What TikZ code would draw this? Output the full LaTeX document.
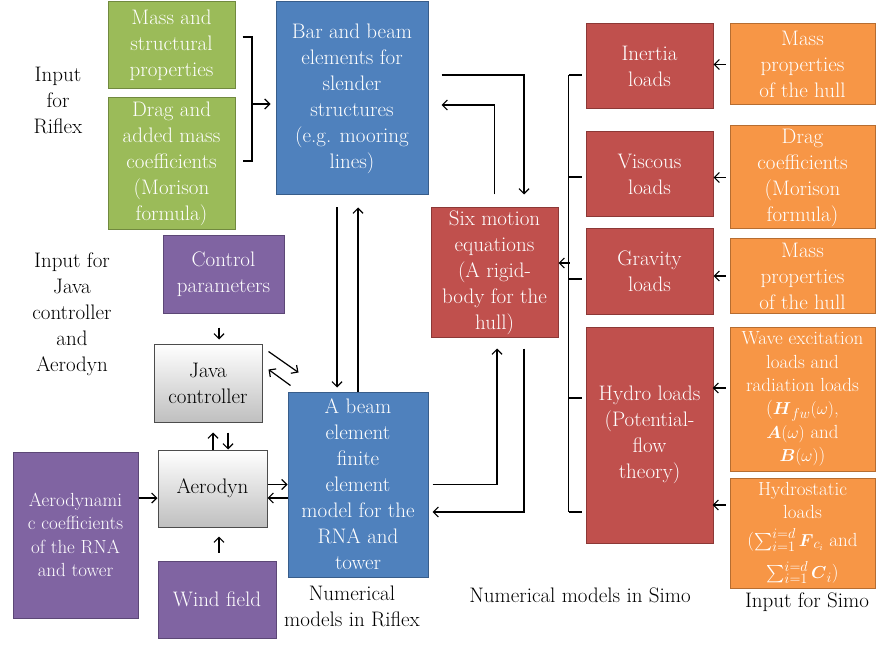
\documentclass[tikz,border=0pt]{standalone}
\usepackage{amsmath}
\usepackage{fontspec}
\usetikzlibrary{arrows.meta,calc}

\definecolor{ppgreen}{HTML}{9BBB59}
\definecolor{ppgreenD}{HTML}{71893F}
\definecolor{ppblue}{HTML}{4F81BD}
\definecolor{ppblueD}{HTML}{385D8A}
\definecolor{ppred}{HTML}{C0504D}
\definecolor{ppredD}{HTML}{8C3836}
\definecolor{pppurple}{HTML}{8064A2}
\definecolor{pppurpleD}{HTML}{5C4776}
\definecolor{pporange}{HTML}{F79646}
\definecolor{pporangeD}{HTML}{B66D31}

\begin{document}
\begin{tikzpicture}[
  x=1pt, y=-1pt,
  box/.style={rectangle, draw, line width=1pt, align=center, inner sep=1pt,
              text=white, font=\fontsize{21}{26}\selectfont},
  grn/.style={box, fill=ppgreen, draw=ppgreenD},
  blu/.style={box, fill=ppblue, draw=ppblueD},
  rd/.style={box, fill=ppred, draw=ppredD},
  prp/.style={box, fill=pppurple, draw=pppurpleD},
  org/.style={box, fill=pporange, draw=pporangeD},
  gry/.style={box, top color=white, bottom color=gray!50, draw=gray!60!black,
              text=black},
  sz/.style 2 args={minimum width=#1pt, minimum height=#2pt},
  small/.style={font=\fontsize{19}{23.3}\selectfont},
  lbl/.style={align=center, font=\fontsize{21}{26}\selectfont},
  arr/.style={-{Straight Barb[length=5pt,width=10pt]}, line width=1.2pt},
  ln/.style={line width=1.2pt}
]
  \useasboundingbox (0,0) rectangle (876,647);

  % Riflex
  \node[grn, sz={127}{87}] (mass) at (171.5,45.5) {Mass and\\structural\\properties};
  \node[grn, sz={127}{132}] (drag) at (171.5,164) {Drag and\\added mass\\coefficients\\(Morison\\formula)};
  \node[blu, sz={152}{193}] (bar) at (352,98.5) {Bar and beam\\elements for\\slender\\structures\\(e.g. mooring\\lines)};
  \node[blu, sz={140}{185}] (fem) at (358,484.5) {A beam\\element\\finite\\element\\model for the\\RNA and\\tower};

  % Java controller and Aerodyn
  \node[prp, sz={121}{77}] (ctrl) at (223.5,274.5) {Control\\parameters};
  \node[gry, sz={108}{78}] (java) at (208,383) {Java\\controller};
  \node[gry, sz={109}{77}] (aero) at (212.5,488.5) {Aerodyn};
  \node[prp, small, sz={125}{166}] (coef) at (75.5,535) {Aerodynami\\c coefficients\\of the RNA\\and tower};
  \node[prp, sz={118}{77}] (wind) at (217,599.5) {Wind field};

  % Simo
  \node[rd, sz={127}{129}] (six) at (494.5,272.5) {Six motion\\equations\\(A rigid-\\body for the\\hull)};
  \node[rd, sz={127}{85}] (inertia) at (649.5,66.5) {Inertia\\loads};
  \node[rd, sz={127}{85}] (viscous) at (649.5,174.5) {Viscous\\loads};
  \node[rd, sz={127}{85}] (gravity) at (649.5,271.5) {Gravity\\loads};
  \node[rd, sz={127}{216}] (hydro) at (649.5,435) {Hydro loads\\(Potential-\\flow\\theory)};
  \node[org, sz={145}{81}] (massp) at (802.5,64.5) {Mass\\properties\\of the hull};
  \node[org, sz={145}{103}] (dragc) at (802.5,177.5) {Drag\\coefficients\\(Morison\\formula)};
  \node[org, sz={145}{74}] (massq) at (802.5,276) {Mass\\properties\\of the hull};
  \node[org, small, sz={145}{144}] (wave) at (802.5,399) {Wave excitation\\loads and\\radiation loads\\($\boldsymbol{H}_{fw}(\omega)$,\\$\boldsymbol{A}(\omega)$ and\\$\boldsymbol{B}(\omega)$)};
  \node[org, small, sz={145}{110}] (hstat) at (802.5,533) {Hydrostatic\\loads\\[4pt]($\sum_{i=1}^{i=d}\boldsymbol{F}_{c_i}$ and\\[9pt]$\sum_{i=1}^{i=d}\boldsymbol{C}_i$)};

  % labels
  \node[lbl] (inriflex) at (58,100) {Input\\for\\Riflex};
  \node[lbl] (injava) at (72,314) {Input for\\Java\\controller\\and\\Aerodyn};
  \node[lbl] (numriflex) at (352,606) {Numerical\\models in Riflex};
  \node[lbl] (numsimo) at (580,595) {Numerical models in Simo};
  \node[lbl] (insimo) at (807,602) {Input for Simo};

  % Riflex inputs
  \coordinate (brk) at (252,104);
  \draw[ln] ([xshift=7pt,yshift=8.5pt]mass.east) -| (brk) |- ([xshift=7pt,yshift=3pt]drag.east);
  \draw[arr, shorten >=5pt] (brk) -- (brk -| bar.west);

  % bar <-> fem
  \coordinate (dn) at ([xshift=-15pt,yshift=-12pt]bar.south);
  \draw[arr, shorten >=4pt] (dn) -- (dn |- fem.north);
  \draw[arr] (fem.north) -- (fem.north |- dn);

  % java <-> fem
  \draw[arr] ($(java.north east)+(6,8)$) -- ($(java.north east)+(36,29)$);
  \draw[arr] ($(java.north east)+(28,42)$) -- ($(java.north east)+(6,26)$);

  % java <-> aero, inputs
  \draw[arr] ([xshift=0.5pt]aero.north) -- ([xshift=5pt,yshift=-10pt]java.south);
  \draw[arr] ([xshift=20pt,yshift=-10pt]java.south) -- ([xshift=15.5pt]aero.north);
  \draw[arr] ([xshift=-4.5pt,yshift=-14pt]ctrl.south) -- ([xshift=11pt,yshift=4pt]java.north);
  \draw[arr] ([xshift=2pt,yshift=8pt]wind.north) -- ([xshift=6.5pt,yshift=-9pt]aero.south);
  \coordinate (aw) at ([yshift=-9.5pt]aero.west);
  \draw[arr] (coef.east |- aw) -- (aw);

  % aero <-> fem
  \draw[arr] (aero.east |- fem.west) -- (fem.west);
  \coordinate (fw) at ([yshift=-13.5pt]fem.west);
  \draw[arr] (fw) -- (fw -| aero.east);

  % bar <-> six
  \draw[arr] ([xshift=13pt,yshift=23.5pt]bar.east) -| ([xshift=29.5pt,yshift=13pt]six.north);
  \draw[arr] ([yshift=13pt]six.north) |- ([xshift=13pt,yshift=-6.5pt]bar.east);

  % fem <-> six
  \draw[arr] ([xshift=4pt]fem.east) -| ([xshift=2.5pt,yshift=-11pt]six.south);
  \draw[arr] ([xshift=29.5pt,yshift=-11pt]six.south) |- ([xshift=4pt,yshift=-27.5pt]fem.east);

  % loads -> six
  \coordinate (bt) at ([xshift=-17pt,yshift=-8.5pt]inertia.west);
  \coordinate (bb) at ([xshift=-17pt,yshift=-77pt]hydro.west);
  \draw[ln] (bt) -- (bb);
  \foreach \n/\dy in {inertia/-8.5, viscous/-2.5, gravity/-7.5, hydro/37, hydro/-77}
    \draw[ln] ([xshift=-4pt,yshift=\dy pt]\n.west) -- ++(-13,0);
  \draw[arr] ($(six.east)+(11,-9.5)$) -- ($(six.east)+(0,-9.5)$);

  % Simo inputs
  \draw[arr, shorten <=4pt] (massp.west) -- (massp.west -| inertia.east);
  \draw[arr, shorten <=4pt] (dragc.west) -- (dragc.west -| viscous.east);
  \draw[arr, shorten <=4pt] (massq.west) -- (massq.west -| gravity.east);
  \draw[arr, shorten <=4pt] ([yshift=11pt]wave.west) -- ++(-17,0);
  \draw[arr, shorten <=4pt] ([yshift=28pt]hstat.west) -- ++(-17,0);
\end{tikzpicture}
\end{document}
